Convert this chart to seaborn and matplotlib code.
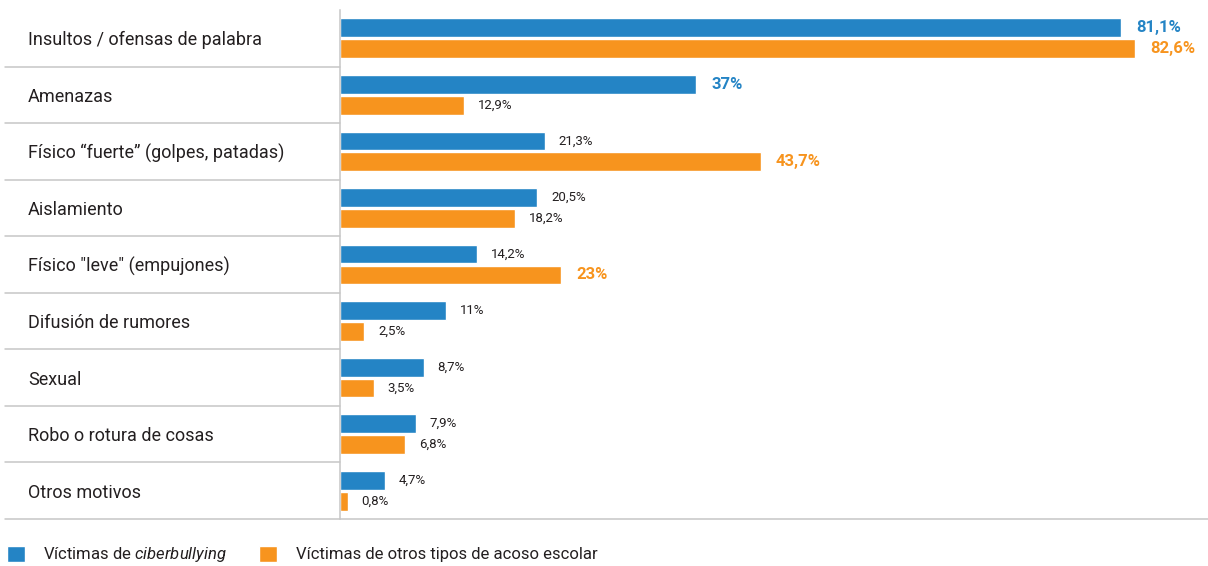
import matplotlib
matplotlib.use("Agg")
import matplotlib.pyplot as plt
import matplotlib.transforms as mtransforms
from matplotlib.lines import Line2D
import seaborn as sns
import pandas as pd

# Data
categories = [
    "Insultos / ofensas de palabra",
    "Amenazas",
    "Físico \u201cfuerte\u201d (golpes, patadas)",
    "Aislamiento",
    'Físico "leve" (empujones)',
    "Difusión de rumores",
    "Sexual",
    "Robo o rotura de cosas",
    "Otros motivos",
]
series_names = ["Víctimas de $\\mathit{ciberbullying}$",
                "Víctimas de otros tipos de acoso escolar"]
ciber = [81.1, 37, 21.3, 20.5, 14.2, 11, 8.7, 7.9, 4.7]
otros = [82.6, 12.9, 43.7, 18.2, 23, 2.5, 3.5, 6.8, 0.8]
# values shown in bold, coloured text
highlight_ciber = [True, True, False, False, False, False, False, False, False]
highlight_otros = [True, False, True, False, True, False, False, False, False]

colors = ["#2484c5", "#f7941e"]
text_dark = "#231f20"
grid_gray = "#c6c6c6"

df = pd.DataFrame({
    "categoria": categories * 2,
    "valor": ciber + otros,
    "serie": [series_names[0]] * len(categories) + [series_names[1]] * len(categories),
})

sns.set_style("white")
plt.rcParams["font.family"] = ["Roboto", "DejaVu Sans"]
plt.rcParams["mathtext.fontset"] = "custom"
plt.rcParams["mathtext.it"] = "Roboto:italic"
plt.rcParams["mathtext.rm"] = "Roboto"

W, H = 1208, 566
fig = plt.figure(figsize=(W / 100, H / 100), dpi=100)
ax = fig.add_axes([340 / W, 1 - 519 / H, (W - 340) / W, (519 - 10) / H])

sns.barplot(data=df, y="categoria", x="valor", hue="serie", orient="h",
            palette=colors, width=0.74, gap=0.1, saturation=1,
            order=categories, hue_order=series_names, ax=ax)

ax.set_xlim(0, (W - 340) / 9.625)
ax.set_ylim(len(categories) - 0.5, -0.5)
ax.set_xlabel("")
ax.set_ylabel("")
ax.set_xticks([])

# category labels left-aligned in the label column
ax.set_yticks(range(len(categories)))
ax.set_yticklabels(categories, fontsize=13, color=text_dark, ha="left")
ax.tick_params(axis="y", length=0, pad=(340 - 28) * 0.72)

for s in ["top", "right", "bottom"]:
    ax.spines[s].set_visible(False)
ax.spines["left"].set_color(grid_gray)
ax.spines["left"].set_linewidth(1.1)

# value labels
flags = [highlight_ciber, highlight_otros]
for k, cont in enumerate(ax.containers):
    for i, bar in enumerate(cont):
        v = bar.get_width()
        txt = f"{v:g}".replace(".", ",") + "%"
        y = bar.get_y() + bar.get_height() / 2
        if flags[k][i]:
            ax.annotate(txt, (v, y), xytext=(11, 0), textcoords="offset points",
                        va="center", ha="left", fontsize=12, fontweight="bold",
                        color=colors[k])
        else:
            ax.annotate(txt, (v, y), xytext=(10, 0), textcoords="offset points",
                        va="center", ha="left", fontsize=9.5, color=text_dark)

# row separators in the label column, full-width bottom rule
trans = mtransforms.blended_transform_factory(fig.transFigure, ax.transData)
for j in range(len(categories) - 1):
    fig.add_artist(Line2D([5 / W, 340 / W], [j + 0.5, j + 0.5], transform=trans,
                          color=grid_gray, lw=1.1))
fig.add_artist(Line2D([5 / W, 1], [len(categories) - 0.5] * 2, transform=trans,
                      color=grid_gray, lw=1.1))

sns.move_legend(ax, loc="center left", bbox_to_anchor=(0.0, 1 - 555 / H),
                bbox_transform=fig.transFigure, ncol=2, frameon=False, title=None,
                fontsize=12, handlelength=1.1, handleheight=1.1,
                handletextpad=1.1, columnspacing=1.9, borderaxespad=0)
for t in ax.get_legend().get_texts():
    t.set_color(text_dark)

fig.savefig("out.png", dpi=100)
